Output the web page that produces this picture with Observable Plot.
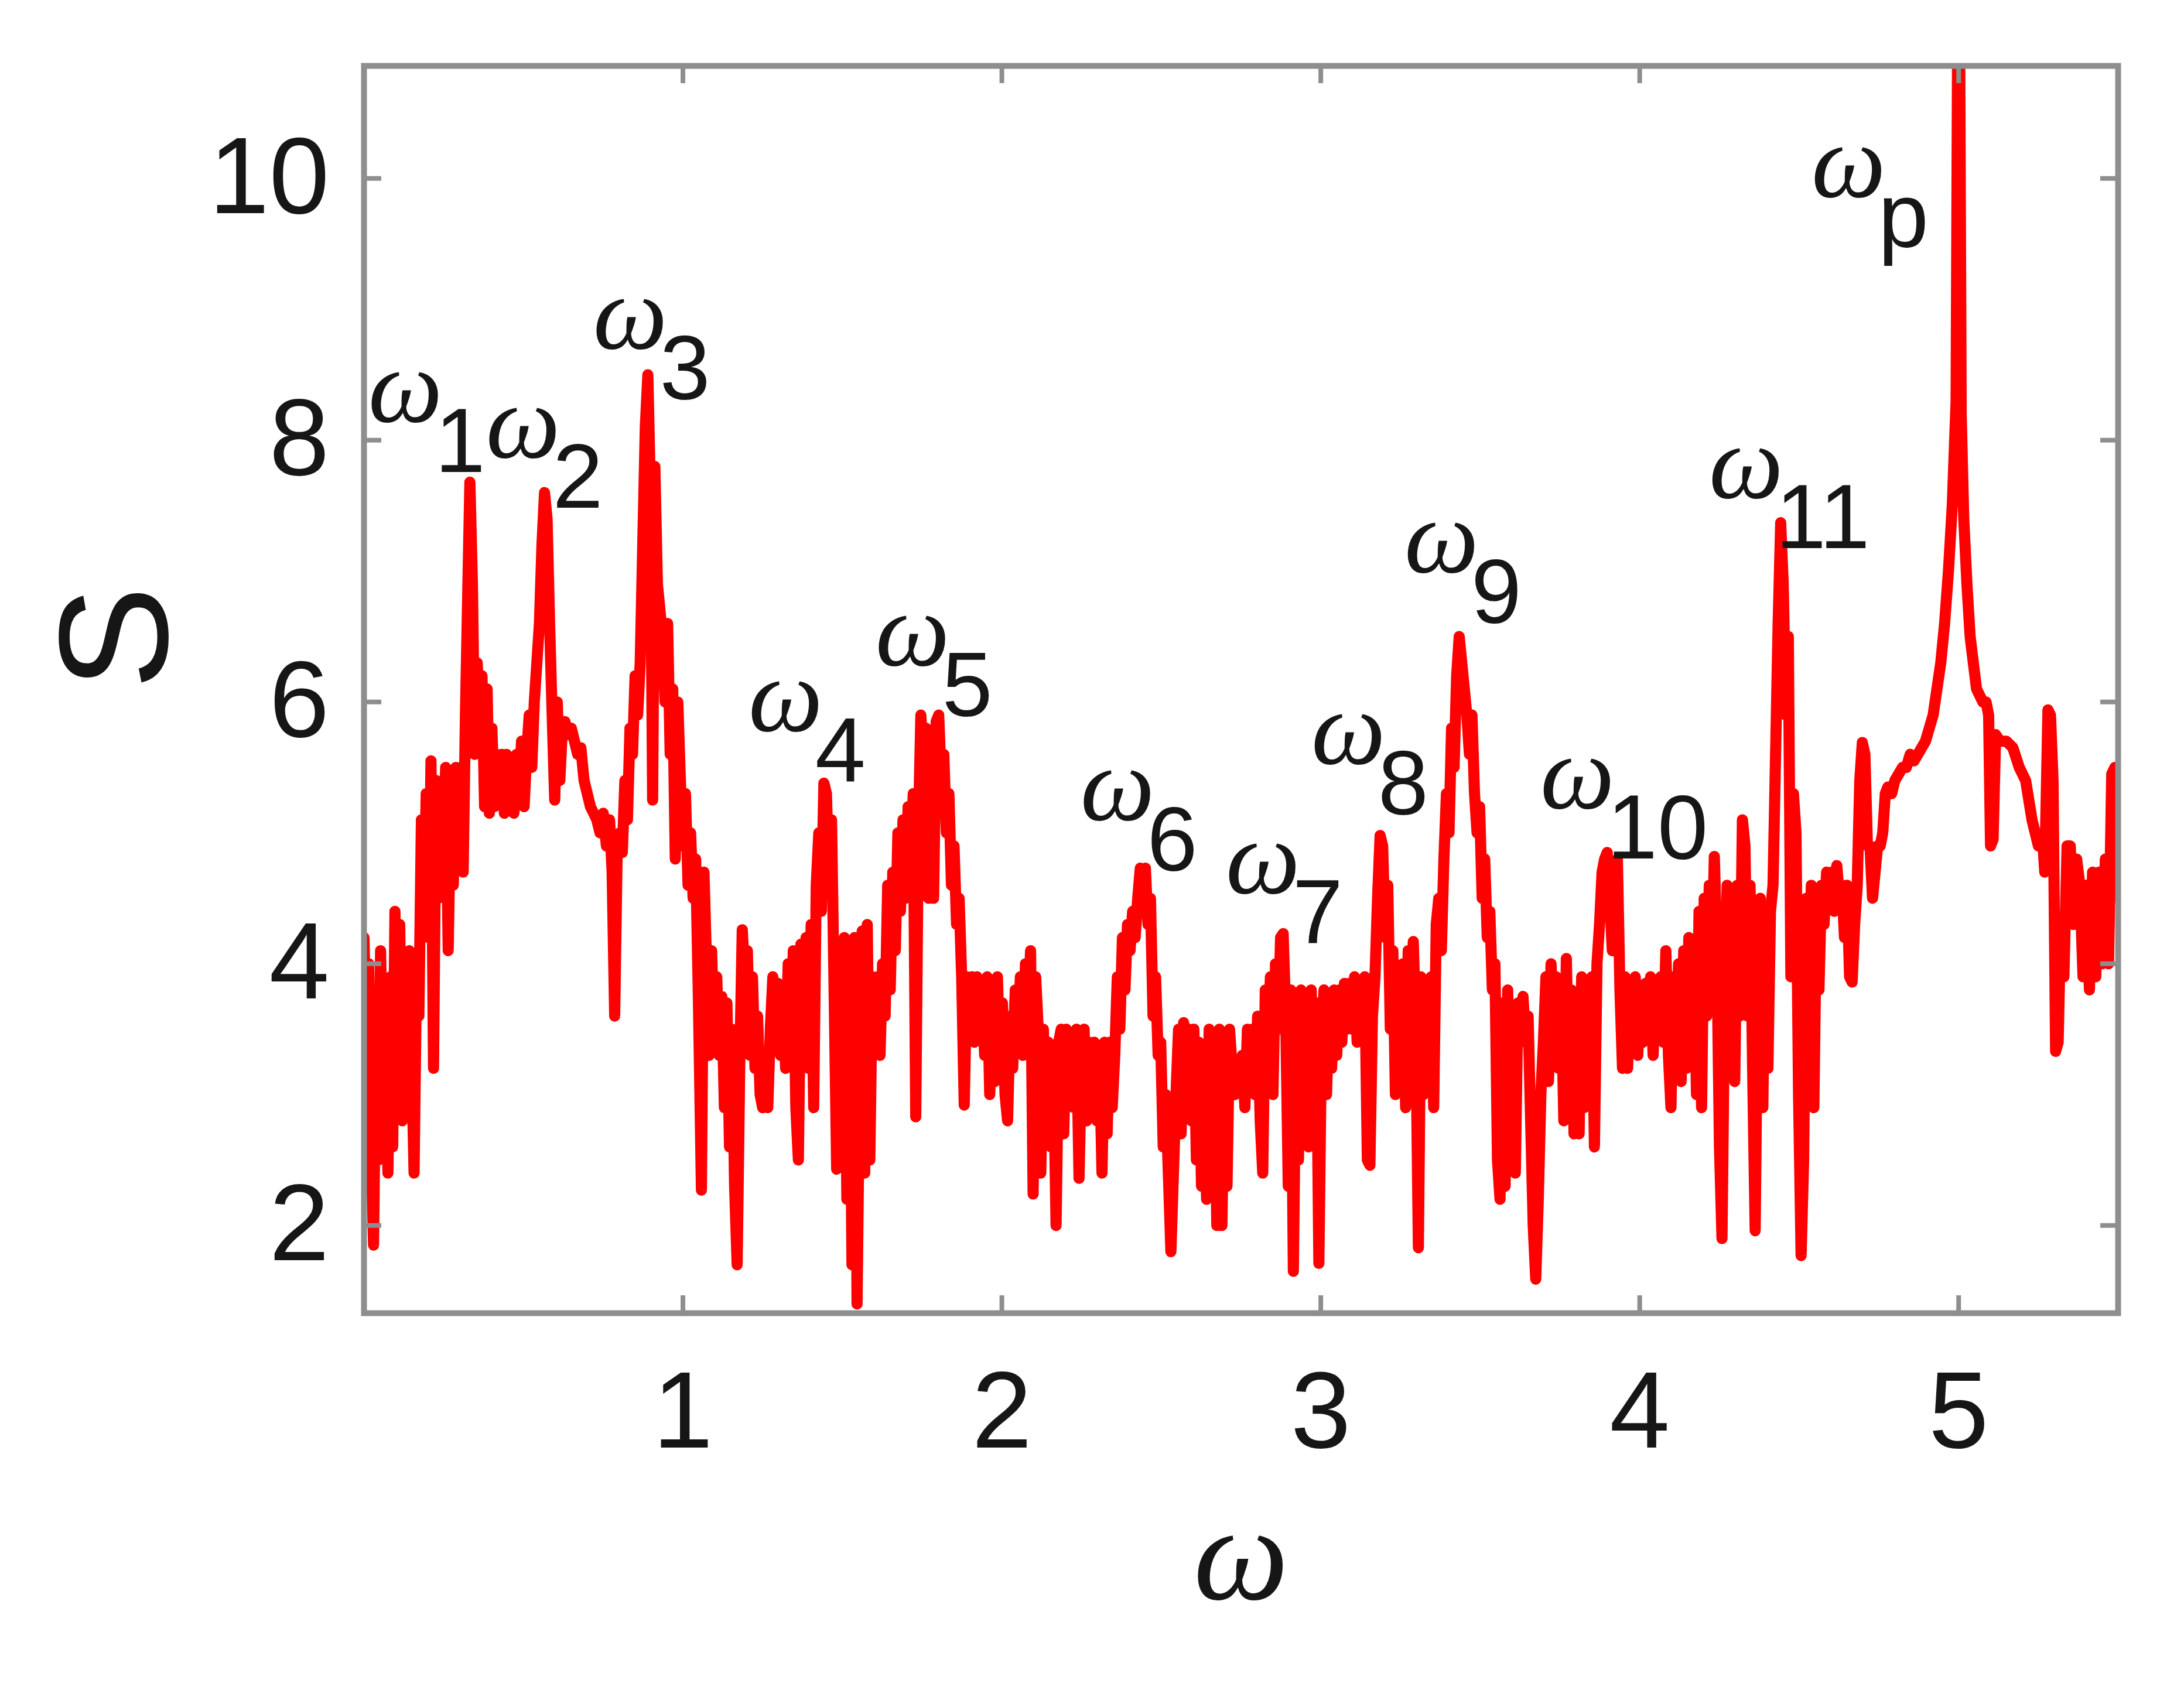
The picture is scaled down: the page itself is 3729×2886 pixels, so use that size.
<!DOCTYPE html>
<html><head><meta charset="utf-8">
<script src="https://cdn.jsdelivr.net/npm/d3@7"></script>
<script src="https://cdn.jsdelivr.net/npm/@observablehq/plot@0.6"></script>
<style>body{margin:0;background:#fff} svg{display:block}</style>
</head><body><div id="chart"></div>
<script>
// spectrum S(ω), in segments of [ω, S]
const seg0to1 = [[0.000,4.2],[0.008,3.3],[0.015,4.0],[0.022,2.6],[0.030,1.85],[0.038,3.6],[0.045,2.5],[0.052,4.1],[0.060,3.0],[0.067,3.6],[0.075,2.4],[0.083,3.9],[0.090,2.6],[0.097,4.4],[0.105,3.2],[0.112,4.3],[0.120,2.8],[0.128,4.0],[0.135,3.0],[0.142,4.1],[0.150,3.2],[0.157,2.4],[0.165,4.0],[0.172,3.6],[0.180,5.1],[0.187,4.3],[0.195,5.3],[0.203,4.2],[0.210,5.55],[0.218,3.2],[0.226,5.4],[0.233,4.5],[0.241,5.2],[0.249,4.9],[0.256,5.5],[0.264,4.1],[0.272,5.3],[0.280,4.6],[0.288,5.5],[0.296,5.1],[0.303,5.5],[0.311,4.7],[0.318,5.9],[0.325,6.8],[0.332,7.68],[0.340,6.9],[0.347,5.6],[0.355,6.3],[0.362,5.9],[0.370,6.2],[0.378,5.2],[0.386,6.1],[0.393,5.15],[0.401,5.8],[0.409,5.2],[0.416,5.6],[0.424,5.3],[0.432,5.6],[0.440,5.15],[0.447,5.6],[0.455,5.2],[0.463,5.5],[0.470,5.15],[0.478,5.6],[0.486,5.3],[0.494,5.7],[0.502,5.2],[0.510,5.6],[0.518,5.9],[0.526,5.5],[0.534,6.0],[0.542,6.3],[0.550,6.6],[0.558,7.2],[0.566,7.6],[0.574,7.4],[0.582,6.6],[0.590,5.9],[0.598,5.25],[0.606,6.0],[0.614,5.4],[0.622,5.8],[0.630,5.85],[0.640,5.75],[0.650,5.8],[0.660,5.7],[0.670,5.6],[0.680,5.65],[0.690,5.4],[0.700,5.3],[0.710,5.2],[0.720,5.15],[0.730,5.1],[0.740,5.0],[0.750,5.15],[0.760,4.9],[0.770,5.1],[0.778,4.7],[0.786,3.6],[0.794,4.9],[0.802,5.0],[0.810,4.85],[0.818,5.4],[0.826,5.1],[0.834,5.8],[0.842,5.6],[0.850,6.2],[0.858,5.9],[0.866,6.3],[0.874,7.2],[0.882,8.1],[0.890,8.5],[0.898,7.6],[0.905,5.25],[0.912,7.8],[0.920,6.9],[0.928,6.7],[0.936,6.5],[0.944,6.0],[0.952,6.6],[0.960,5.6],[0.968,6.1],[0.976,4.8],[0.984,6.0],[0.992,5.4]];
const seg1to2 = [[1.000,4.9],[1.008,5.3],[1.016,4.6],[1.024,5.0],[1.032,4.5],[1.040,4.8],[1.048,3.8],[1.058,2.27],[1.066,4.7],[1.074,4.0],[1.082,3.3],[1.090,4.1],[1.098,3.4],[1.106,3.9],[1.114,3.3],[1.122,3.75],[1.130,2.9],[1.138,3.7],[1.146,2.6],[1.154,3.5],[1.162,2.3],[1.170,1.7],[1.178,3.2],[1.186,4.26],[1.194,3.9],[1.202,4.1],[1.210,3.3],[1.218,3.9],[1.226,3.2],[1.234,3.6],[1.242,3.0],[1.250,2.9],[1.258,3.2],[1.266,2.9],[1.274,3.5],[1.282,3.9],[1.290,3.4],[1.298,3.85],[1.306,3.3],[1.314,3.7],[1.322,3.2],[1.330,4.0],[1.338,3.3],[1.346,4.1],[1.354,2.9],[1.362,2.5],[1.370,4.15],[1.378,3.3],[1.386,4.2],[1.394,3.2],[1.402,4.3],[1.410,2.9],[1.418,4.6],[1.426,5.0],[1.434,4.4],[1.442,5.38],[1.450,5.3],[1.458,4.6],[1.466,5.1],[1.474,3.8],[1.482,2.43],[1.490,3.9],[1.498,3.0],[1.506,4.2],[1.514,2.2],[1.522,4.1],[1.530,1.7],[1.538,4.2],[1.546,1.4],[1.554,3.2],[1.562,4.25],[1.570,2.4],[1.578,4.3],[1.586,2.5],[1.594,3.9],[1.602,3.4],[1.610,3.9],[1.618,3.3],[1.626,4.0],[1.634,3.6],[1.642,4.6],[1.650,3.8],[1.658,4.7],[1.666,4.1],[1.674,5.0],[1.682,4.4],[1.690,5.1],[1.698,4.5],[1.706,5.2],[1.714,4.6],[1.722,5.3],[1.730,2.83],[1.738,5.0],[1.746,5.9],[1.754,5.5],[1.762,5.8],[1.770,4.5],[1.778,5.7],[1.786,4.5],[1.794,5.85],[1.802,5.9],[1.810,5.4],[1.818,5.6],[1.826,5.0],[1.834,5.3],[1.842,4.6],[1.850,4.9],[1.858,4.3],[1.866,4.5],[1.874,3.9],[1.882,2.92],[1.890,3.9],[1.898,3.5],[1.906,3.9],[1.914,3.4],[1.922,3.9],[1.930,3.5],[1.938,3.8],[1.946,3.3],[1.954,3.9],[1.962,3.0]];
const seg2to3 = [[1.970,3.6],[1.978,3.1],[1.986,3.9],[1.994,3.3],[2.002,3.7],[2.010,3.0],[2.018,2.8],[2.026,3.6],[2.034,3.2],[2.042,3.8],[2.050,3.4],[2.058,3.9],[2.066,3.3],[2.074,4.0],[2.082,3.6],[2.090,4.1],[2.098,2.24],[2.106,3.9],[2.114,3.5],[2.122,2.4],[2.130,3.5],[2.138,2.9],[2.146,3.4],[2.154,2.6],[2.162,3.2],[2.170,2.0],[2.178,3.4],[2.186,3.5],[2.194,2.7],[2.202,3.5],[2.210,3.0],[2.218,3.4],[2.226,2.9],[2.234,3.5],[2.242,2.36],[2.250,3.3],[2.258,3.5],[2.266,2.8],[2.274,3.4],[2.282,3.0],[2.290,3.4],[2.298,2.8],[2.306,3.3],[2.314,2.4],[2.322,3.4],[2.330,2.7],[2.338,3.4],[2.346,2.9],[2.354,3.3],[2.362,3.9],[2.370,3.5],[2.378,4.2],[2.386,3.8],[2.394,4.3],[2.402,4.1],[2.410,4.4],[2.418,4.2],[2.426,4.5],[2.434,4.73],[2.442,4.7],[2.450,4.73],[2.458,4.3],[2.466,4.5],[2.474,3.6],[2.482,3.9],[2.490,3.3],[2.498,3.4],[2.506,2.6],[2.514,3.0],[2.522,2.4],[2.530,1.8],[2.538,2.4],[2.546,3.0],[2.554,3.5],[2.562,2.7],[2.570,3.55],[2.578,3.0],[2.586,3.5],[2.594,2.8],[2.602,3.5],[2.610,2.5],[2.618,3.4],[2.626,2.3],[2.634,3.0],[2.642,2.2],[2.650,3.5],[2.658,2.4],[2.666,3.3],[2.674,2.0],[2.682,3.5],[2.690,2.0],[2.698,3.3],[2.706,2.3],[2.714,3.5],[2.722,3.2],[2.730,3.0],[2.738,3.2],[2.746,3.1],[2.754,3.3],[2.762,2.9],[2.770,3.5],[2.778,3.2],[2.786,3.5],[2.794,3.0],[2.802,3.6],[2.810,2.8],[2.818,2.4],[2.826,3.8],[2.834,3.3],[2.842,3.9],[2.850,3.0],[2.858,4.0],[2.866,3.5],[2.874,4.2],[2.882,4.23],[2.890,3.6],[2.898,2.3],[2.906,3.8],[2.914,1.65],[2.922,3.4],[2.930,2.5],[2.938,3.8],[2.946,2.7],[2.954,3.6]];
const seg3to4 = [[2.962,2.6],[2.970,3.8],[2.978,2.9],[2.986,3.7],[2.994,1.71],[3.002,3.4],[3.010,3.8],[3.018,3.0],[3.026,3.7],[3.034,3.2],[3.042,3.8],[3.050,3.3],[3.058,3.8],[3.066,3.4],[3.074,3.85],[3.082,3.5],[3.090,3.85],[3.098,3.5],[3.106,3.9],[3.114,3.4],[3.122,3.85],[3.130,3.6],[3.138,3.9],[3.146,2.5],[3.154,2.46],[3.162,3.6],[3.170,3.9],[3.178,4.5],[3.186,4.98],[3.194,4.9],[3.202,4.2],[3.210,4.6],[3.218,3.5],[3.226,4.1],[3.234,3.0],[3.242,3.9],[3.250,3.2],[3.258,4.0],[3.266,2.9],[3.274,4.1],[3.282,3.2],[3.290,4.17],[3.298,3.5],[3.306,1.83],[3.314,3.9],[3.322,3.0],[3.330,3.7],[3.338,3.2],[3.346,3.9],[3.354,2.9],[3.362,4.3],[3.370,4.5],[3.378,4.1],[3.386,4.8],[3.394,5.3],[3.402,5.0],[3.410,5.8],[3.418,5.5],[3.426,6.2],[3.434,6.5],[3.442,6.3],[3.450,6.1],[3.458,5.9],[3.466,5.6],[3.474,5.9],[3.482,5.3],[3.490,5.0],[3.498,5.2],[3.506,4.5],[3.514,4.8],[3.522,4.2],[3.530,4.4],[3.538,3.8],[3.546,4.0],[3.554,2.5],[3.562,2.2],[3.570,3.7],[3.578,2.3],[3.586,3.8],[3.594,2.6],[3.602,3.6],[3.610,2.4],[3.618,3.7],[3.626,3.5],[3.634,3.75],[3.642,3.4],[3.650,3.6],[3.658,2.8],[3.666,2.0],[3.674,1.59],[3.682,2.2],[3.690,3.0],[3.698,3.4],[3.706,3.9],[3.714,3.1],[3.722,4.0],[3.730,3.4],[3.738,3.9],[3.746,3.2],[3.754,3.8],[3.762,2.8],[3.770,4.04],[3.778,3.0],[3.786,3.8],[3.794,2.7],[3.802,3.6],[3.810,2.7],[3.818,3.9],[3.826,2.9],[3.834,3.7],[3.842,3.3],[3.850,3.9],[3.858,2.6],[3.866,4.0],[3.874,4.3],[3.882,4.7],[3.890,4.8],[3.898,4.85],[3.906,4.5],[3.914,4.1],[3.922,4.4]];
const seg4to5 = [[3.930,4.8],[3.938,3.8],[3.946,3.2],[3.954,3.9],[3.962,3.2],[3.970,3.8],[3.978,3.4],[3.986,3.9],[3.994,3.3],[4.002,3.8],[4.010,3.4],[4.018,3.85],[4.026,3.5],[4.034,3.9],[4.042,3.3],[4.050,3.8],[4.058,3.5],[4.066,3.9],[4.074,3.4],[4.082,4.1],[4.090,3.3],[4.098,2.9],[4.106,3.9],[4.114,3.5],[4.122,4.0],[4.130,3.1],[4.138,4.1],[4.146,3.2],[4.154,4.2],[4.162,3.3],[4.170,4.1],[4.178,3.0],[4.186,4.4],[4.194,2.9],[4.202,4.5],[4.210,3.6],[4.218,4.6],[4.226,4.0],[4.234,4.82],[4.242,4.1],[4.250,2.6],[4.258,1.9],[4.266,3.7],[4.274,4.6],[4.282,3.4],[4.290,4.5],[4.298,3.1],[4.306,4.6],[4.314,3.6],[4.322,5.1],[4.330,4.9],[4.338,3.6],[4.346,4.6],[4.354,3.2],[4.362,1.96],[4.370,3.9],[4.378,4.5],[4.386,2.9],[4.394,4.4],[4.402,3.2],[4.410,4.4],[4.418,4.6],[4.426,5.6],[4.434,6.6],[4.442,7.37],[4.450,6.9],[4.458,5.9],[4.466,6.5],[4.474,3.9],[4.482,5.3],[4.490,5.0],[4.498,3.0],[4.506,1.77],[4.514,2.5],[4.522,4.5],[4.530,3.5],[4.538,4.6],[4.546,2.9],[4.554,4.4],[4.562,3.8],[4.570,4.6],[4.578,4.3],[4.586,4.7],[4.594,4.5],[4.602,4.7],[4.610,4.4],[4.618,4.75],[4.626,4.5],[4.634,4.6],[4.642,4.2],[4.650,4.6],[4.658,3.9],[4.666,3.86],[4.674,4.3],[4.682,4.6],[4.690,5.4],[4.698,5.69],[4.706,5.6],[4.714,4.9],[4.722,4.9],[4.730,4.5],[4.738,4.7],[4.746,4.9],[4.754,4.9],[4.762,5.0],[4.770,5.3],[4.778,5.35],[4.790,5.3],[4.800,5.4],[4.812,5.45],[4.824,5.5],[4.836,5.5],[4.848,5.6],[4.860,5.55],[4.872,5.6],[4.884,5.65],[4.896,5.7],[4.908,5.8],[4.920,5.9],[4.932,6.1],[4.944,6.3],[4.956,6.6],[4.968,7.0],[4.980,7.5],[4.992,8.3]];
const seg5toEnd = [[5.000,13.0],[5.008,8.2],[5.016,7.4],[5.026,6.9],[5.036,6.5],[5.046,6.3],[5.056,6.1],[5.066,6.05],[5.076,6.0],[5.086,6.0],[5.094,5.9],[5.100,4.9],[5.108,4.95],[5.116,5.75],[5.130,5.7],[5.150,5.7],[5.170,5.65],[5.190,5.5],[5.210,5.4],[5.230,5.1],[5.250,4.9],[5.262,5.0],[5.270,4.7],[5.280,5.94],[5.288,5.9],[5.296,5.4],[5.304,3.33],[5.312,3.4],[5.320,4.3],[5.330,3.9],[5.340,4.9],[5.350,4.9],[5.360,4.3],[5.370,4.8],[5.380,4.6],[5.390,3.9],[5.400,4.6],[5.410,3.8],[5.420,4.7],[5.430,3.9],[5.440,4.7],[5.450,4.0],[5.460,4.8],[5.470,4.0],[5.480,5.45],[5.490,5.5],[5.500,4.5]];

// axes
const xTicks = [1, 2, 3, 4, 5];
const yTicks = [2, 4, 6, 8, 10];
const xDomain = [0, 5.5];
const yDomain = [1.33, 10.86];

// peak labels: ω with subscript, anchored at the ω's left baseline
const labelX = [0.013, 0.382, 0.718, 1.205, 1.603, 2.246, 2.702, 2.970, 3.262, 3.688, 4.217, 4.538];
const labelY = [8.14, 7.87, 8.70, 5.78, 6.28, 5.10, 4.54, 5.53, 6.99, 5.19, 7.56, 9.86];
const labelSub = ["1", "2", "3", "4", "5", "6", "7", "8", "9", "10", "11", "p"];

const W = 3729, H = 2886, mL = 621, mR = 113, mT = 112, mB = 644;
const plotW = W - mL - mR, plotH = H - mT - mB;
const spectrum = [...seg0to1, ...seg1to2, ...seg2to3, ...seg3to4, ...seg4to5, ...seg5toEnd].map(([w, s]) => ({w, s}));
const labels = labelX.map((x, i) => ({x, y: labelY[i], sub: labelSub[i]}));

const frameGray = "#8e8e8e";
const ink = "#161616";
const omegaFs = 180, subFs = 155;
const fmt = d => String(d);

const chart = Plot.plot({
  width: W, height: H,
  marginLeft: mL, marginRight: mR, marginTop: mT, marginBottom: mB,
  x: {domain: xDomain},
  y: {domain: yDomain},
  style: {background: "#fff", fontFamily: "Liberation Sans, Arial, sans-serif", overflow: "visible"},
  marks: [
    Plot.line(spectrum, {x: "w", y: "s", stroke: "#ff0000", strokeWidth: 19, strokeLinejoin: "round", clip: true}),
    Plot.frame({stroke: frameGray, strokeWidth: 10}),
    Plot.ruleX(xTicks, {x: d => d, insetTop: plotH - 30, stroke: frameGray, strokeWidth: 8}),
    Plot.ruleX(xTicks, {x: d => d, insetBottom: plotH - 30, stroke: frameGray, strokeWidth: 8}),
    Plot.ruleY(yTicks, {y: d => d, insetRight: plotW - 30, stroke: frameGray, strokeWidth: 8}),
    Plot.ruleY(yTicks, {y: d => d, insetLeft: plotW - 30, stroke: frameGray, strokeWidth: 8}),
    Plot.axisX(xTicks, {tickSize: 0, tickPadding: 98, tickFormat: fmt, fontSize: 185, fill: ink, label: null, fontFamily: "Liberation Sans"}),
    Plot.axisY(yTicks, {tickSize: 0, tickPadding: 59, tickFormat: fmt, fontSize: 185, fill: ink, label: null, fontFamily: "Liberation Sans"}),
    Plot.text(labels, {x: "x", y: "y", text: () => "ω", textAnchor: "start", lineAnchor: "middle", dy: -0.32 * omegaFs,
      fontSize: omegaFs, fontFamily: "Liberation Serif", fontStyle: "italic", fill: ink}),
    Plot.text(labels, {x: "x", y: "y", text: "sub", textAnchor: "start", lineAnchor: "middle", dx: 114, dy: 86 - 0.32 * subFs,
      fontSize: subFs, fontFamily: "Liberation Sans", fill: ink}),
    Plot.text(["ω"], {text: d => d, frameAnchor: "bottom", dy: 488, fontSize: 230, fontFamily: "Liberation Serif", fontStyle: "italic", fill: ink}),
    Plot.text(["S"], {text: d => d, frameAnchor: "left", dx: -421, rotate: -90, fontSize: 265, fontFamily: "Liberation Sans", fill: ink})
  ]
});
document.getElementById("chart").append(chart);
</script>
</body></html>
